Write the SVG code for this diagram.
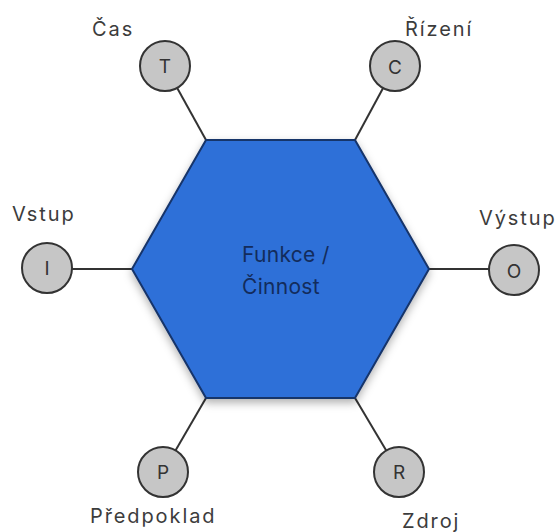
<svg xmlns="http://www.w3.org/2000/svg" width="559" height="532" viewBox="0 0 559 532">
<style>
.lbl{font-family:Inter,"Liberation Sans",sans-serif;font-size:20px;letter-spacing:1.9px;fill:#3c3c3c}
.ctr{font-family:Inter,"Liberation Sans",sans-serif;font-size:21px;letter-spacing:0.3px;fill:#132c5c}
.ltr{font-family:Inter,"Liberation Sans",sans-serif;font-size:19px;fill:#333;text-anchor:middle;dominant-baseline:central}
.node circle{fill:#c6c6c6;stroke:#333;stroke-width:2}
.conn line{stroke:#333;stroke-width:2}
</style>
<defs>
<filter id="sh" x="-20%" y="-20%" width="140%" height="150%"><feDropShadow dx="0" dy="4" stdDeviation="4" flood-color="#000" flood-opacity="0.3"/></filter>
</defs>
<g class="conn">
<line x1="165" y1="66" x2="206" y2="140"/>
<line x1="395" y1="66" x2="355" y2="140"/>
<line x1="47" y1="269" x2="132" y2="269"/>
<line x1="514" y1="269" x2="429" y2="269"/>
<line x1="163" y1="472" x2="206" y2="398"/>
<line x1="399" y1="472" x2="355" y2="398"/>
</g>
<g id="center">
<polygon points="206,140 355,140 429,269 355,398 206,398 132,269" fill="#2f6fd8" stroke="#16346a" stroke-width="2" filter="url(#sh)"/>
<text class="ctr" x="242" y="262">Funkce /</text>
<text class="ctr" x="242" y="294">Činnost</text>
</g>
<g id="n-T" class="node"><circle cx="165" cy="66" r="25"/><text class="ltr" x="165" y="66">T</text></g>
<g id="n-C" class="node"><circle cx="395" cy="66" r="25"/><text class="ltr" x="395" y="67">C</text></g>
<g id="n-I" class="node"><circle cx="47" cy="268" r="25"/><text class="ltr" x="47" y="268">I</text></g>
<g id="n-O" class="node"><circle cx="514" cy="270" r="25"/><text class="ltr" x="514" y="271">O</text></g>
<g id="n-P" class="node"><circle cx="163" cy="472" r="25"/><text class="ltr" x="163" y="472">P</text></g>
<g id="n-R" class="node"><circle cx="399" cy="472" r="25"/><text class="ltr" x="399" y="472">R</text></g>
<text class="lbl" x="92" y="36">Čas</text>
<text class="lbl" x="405" y="36">Řízení</text>
<text class="lbl" x="12" y="221">Vstup</text>
<text class="lbl" x="479" y="225">Výstup</text>
<text class="lbl" x="90" y="523">Předpoklad</text>
<text class="lbl" x="402" y="528">Zdroj</text>
</svg>
